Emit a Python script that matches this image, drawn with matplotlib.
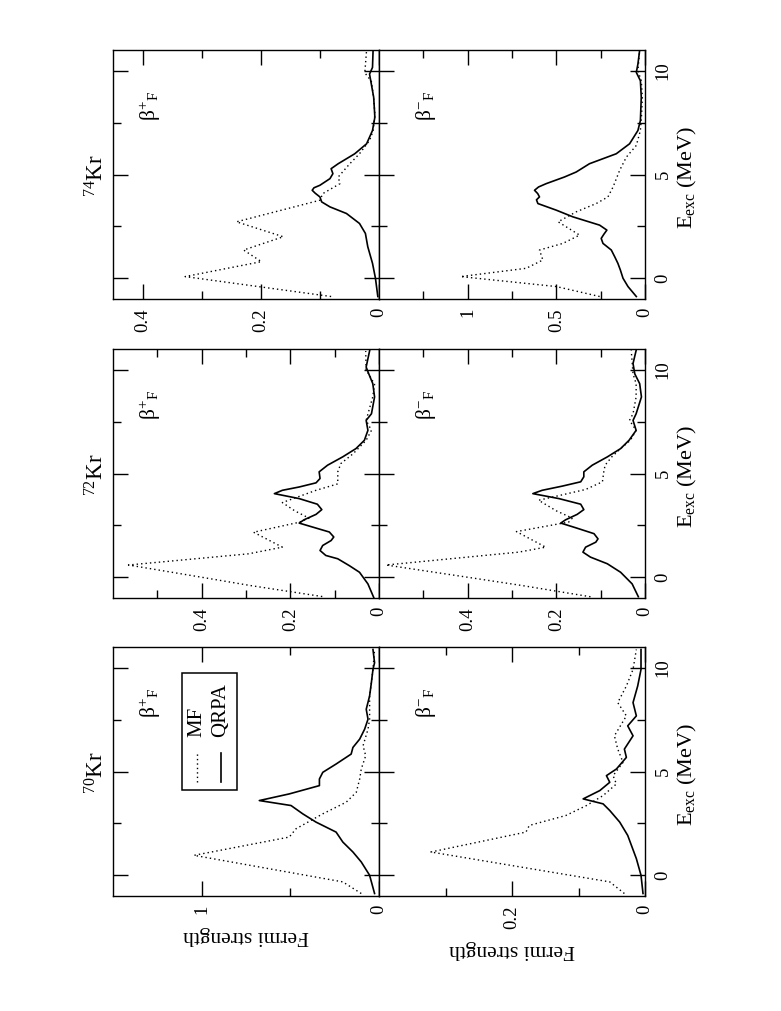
import matplotlib
matplotlib.use("Agg")
import matplotlib.pyplot as plt
from matplotlib.patches import Rectangle
from matplotlib.lines import Line2D

plt.rcParams['font.family'] = ['Liberation Serif', 'DejaVu Serif']
plt.rcParams['mathtext.fontset'] = 'custom'
plt.rcParams['mathtext.rm'] = 'Liberation Serif'
plt.rcParams['mathtext.it'] = 'Liberation Serif:italic'
plt.rcParams['mathtext.bf'] = 'Liberation Serif:bold'

# ---------------- data (E_exc in MeV, Fermi strength) ----------------
nuclei = ['70', '72', '74']

# 74Kr beta+
kr74_bp_mf_E = [-0.88, 0.08, 0.8, 1.36, 2.0, 2.72, 3.76, 4.08, 4.56, 4.88, 5.5, 6.0, 6.64, 7.1, 7.9, 8.7, 9.5, 9.9, 11.0]
kr74_bp_mf_S = [0.081, 0.328, 0.199, 0.229, 0.162, 0.241, 0.100, 0.095, 0.066, 0.069, 0.050, 0.033, 0.016, 0.010, 0.007, 0.009, 0.013, 0.024, 0.021]
kr74_bp_qrpa_E = [-0.88, 0.0, 0.72, 1.52, 2.16, 2.64, 3.12, 3.44, 3.68, 3.92, 4.1, 4.24, 4.36, 4.48, 4.8, 5.04, 5.28, 5.52, 6.0, 6.48, 7.12, 7.76, 8.72, 9.36, 9.84, 10.16, 11.0]
kr74_bp_qrpa_S = [0.002, 0.006, 0.011, 0.019, 0.023, 0.033, 0.055, 0.083, 0.097, 0.100, 0.108, 0.113, 0.110, 0.100, 0.083, 0.078, 0.081, 0.069, 0.041, 0.021, 0.011, 0.007, 0.009, 0.013, 0.016, 0.011, 0.010]

# 74Kr beta-
kr74_bm_mf_E = [-0.88, -0.4, 0.08, 0.48, 0.88, 1.36, 1.68, 2.08, 2.72, 3.2, 3.6, 3.92, 4.4, 5.2, 5.84, 6.4, 7.12, 7.92, 8.72, 9.52, 10.0, 11.0]
kr74_bm_mf_S = [0.256, 0.50, 1.04, 0.67, 0.576, 0.595, 0.463, 0.369, 0.49, 0.388, 0.275, 0.209, 0.18, 0.143, 0.105, 0.049, 0.026, 0.019, 0.015, 0.021, 0.040, 0.030]
kr74_bm_qrpa_E = [-0.88, -0.4, 0.0, 0.4, 0.72, 1.04, 1.36, 1.68, 1.92, 2.12, 2.32, 2.56, 2.96, 3.28, 3.6, 3.78, 3.92, 4.08, 4.24, 4.4, 4.56, 4.88, 5.12, 5.52, 6.0, 6.48, 7.12, 7.6, 8.72, 9.52, 9.92, 10.32, 11.0]
kr74_bm_qrpa_S = [0.049, 0.096, 0.124, 0.139, 0.153, 0.171, 0.19, 0.237, 0.247, 0.232, 0.215, 0.256, 0.407, 0.50, 0.604, 0.612, 0.595, 0.605, 0.623, 0.60, 0.557, 0.454, 0.388, 0.313, 0.162, 0.087, 0.040, 0.026, 0.021, 0.026, 0.049, 0.040, 0.030]

# 72Kr beta+
kr72_bp_mf_E = [-0.93, -0.4, 0.0, 0.59, 1.13, 1.45, 2.17, 2.65, 2.85, 3.2, 3.6, 4.19, 4.5, 5.08, 5.48, 5.96, 6.6, 7.08, 7.56, 8.7, 9.3, 10.0, 10.9]
kr72_bp_mf_S = [0.128, 0.29, 0.40, 0.565, 0.294, 0.218, 0.283, 0.18, 0.158, 0.19, 0.218, 0.142, 0.093, 0.093, 0.086, 0.058, 0.029, 0.017, 0.029, 0.014, 0.010, 0.029, 0.030]
kr72_bp_qrpa_E = [-0.97, -0.32, 0.24, 0.56, 0.89, 1.05, 1.29, 1.53, 1.77, 1.94, 2.18, 2.42, 2.61, 2.77, 3.03, 3.26, 3.52, 3.79, 4.03, 4.19, 4.35, 4.55, 4.76, 5.08, 5.4, 5.8, 6.2, 6.6, 7.08, 7.56, 7.88, 8.69, 9.33, 9.8, 10.13, 10.93]
kr72_bp_qrpa_S = [0.012, 0.025, 0.044, 0.067, 0.093, 0.12, 0.133, 0.127, 0.108, 0.102, 0.112, 0.15, 0.18, 0.169, 0.142, 0.129, 0.139, 0.18, 0.236, 0.218, 0.18, 0.142, 0.133, 0.135, 0.116, 0.082, 0.052, 0.033, 0.025, 0.029, 0.017, 0.010, 0.014, 0.023, 0.029, 0.021]

# 72Kr beta-
kr72_bm_mf_E = [-0.94, -0.4, 0.0, 0.59, 1.21, 1.45, 2.2, 2.66, 2.85, 3.2, 3.71, 4.23, 4.6, 5.08, 5.4, 5.8, 6.2, 6.6, 7.08, 7.56, 7.88, 8.69, 9.33, 9.8, 10.93]
kr72_bm_mf_S = [0.123, 0.277, 0.40, 0.584, 0.285, 0.224, 0.29, 0.172, 0.164, 0.20, 0.24, 0.134, 0.096, 0.093, 0.090, 0.075, 0.055, 0.033, 0.020, 0.035, 0.027, 0.020, 0.020, 0.027, 0.031]
kr72_bm_qrpa_E = [-0.94, -0.32, 0.24, 0.65, 0.97, 1.21, 1.45, 1.69, 1.85, 2.1, 2.39, 2.61, 2.77, 3.03, 3.26, 3.52, 3.79, 4.03, 4.19, 4.39, 4.6, 4.84, 5.08, 5.4, 5.8, 6.2, 6.6, 7.08, 7.56, 7.88, 8.69, 9.33, 9.8, 10.3, 10.93]
kr72_bm_qrpa_S = [0.015, 0.029, 0.055, 0.085, 0.123, 0.140, 0.134, 0.111, 0.106, 0.115, 0.157, 0.190, 0.179, 0.153, 0.138, 0.145, 0.194, 0.253, 0.232, 0.187, 0.145, 0.138, 0.138, 0.119, 0.085, 0.055, 0.036, 0.020, 0.027, 0.020, 0.008, 0.012, 0.023, 0.027, 0.020]

# 70Kr beta+
kr70_bp_mf_E = [-0.88, -0.32, 0.96, 1.84, 2.24, 2.96, 3.52, 4.0, 4.64, 5.12, 5.76, 6.24, 7.04, 7.52, 8.64, 9.28, 9.92, 10.88]
kr70_bp_mf_S = [0.10, 0.204, 1.043, 0.506, 0.468, 0.317, 0.185, 0.128, 0.109, 0.100, 0.075, 0.090, 0.062, 0.053, 0.053, 0.043, 0.034, 0.025]
kr70_bp_qrpa_E = [-0.88, 0.0, 0.64, 1.12, 1.6, 2.08, 2.56, 2.96, 3.36, 3.6, 3.92, 4.32, 4.64, 4.96, 5.36, 5.84, 6.16, 6.56, 7.04, 7.52, 8.0, 8.64, 9.28, 9.92, 10.24, 10.88]
kr70_bp_qrpa_S = [0.025, 0.053, 0.10, 0.147, 0.204, 0.242, 0.355, 0.43, 0.496, 0.675, 0.506, 0.336, 0.336, 0.317, 0.242, 0.157, 0.147, 0.109, 0.081, 0.062, 0.072, 0.053, 0.043, 0.034, 0.025, 0.034]

# 70Kr beta-
kr70_bm_mf_E = [-0.88, -0.32, 1.12, 2.08, 2.4, 2.88, 3.36, 3.84, 4.4, 4.8, 5.44, 6.08, 6.72, 7.68, 8.32, 9.12, 9.92, 10.88]
kr70_bm_mf_S = [0.031, 0.053, 0.322, 0.179, 0.174, 0.119, 0.088, 0.063, 0.043, 0.048, 0.033, 0.041, 0.046, 0.028, 0.041, 0.028, 0.018, 0.013]
kr70_bm_qrpa_E = [-0.88, 0.0, 0.8, 1.92, 2.56, 3.12, 3.44, 3.68, 4.08, 4.48, 4.8, 5.12, 5.68, 6.08, 6.72, 7.2, 7.68, 8.32, 9.12, 9.92, 10.88]
kr70_bm_qrpa_S = [0.003, 0.006, 0.013, 0.026, 0.038, 0.053, 0.063, 0.093, 0.068, 0.053, 0.058, 0.043, 0.028, 0.031, 0.018, 0.026, 0.013, 0.018, 0.011, 0.006, 0.006]

# axis settings per panel: (xmax, major ticks, major labels, minor ticks)
E_major = [0, 5, 10]
E_minor = [2.5, 7.5]
E_labels = ['0', '5', '10']

panels = {
    ('74', 'p'): (0.45, [0, 0.2, 0.4], ['0', '0.2', '0.4'], [0.1, 0.3],
                  kr74_bp_mf_E, kr74_bp_mf_S, kr74_bp_qrpa_E, kr74_bp_qrpa_S),
    ('74', 'm'): (1.5, [0, 0.5, 1.0], ['0', '0.5', '1'], [0.25, 0.75, 1.25],
                  kr74_bm_mf_E, kr74_bm_mf_S, kr74_bm_qrpa_E, kr74_bm_qrpa_S),
    ('72', 'p'): (0.6, [0, 0.2, 0.4], ['0', '0.2', '0.4'], [0.1, 0.3, 0.5],
                  kr72_bp_mf_E, kr72_bp_mf_S, kr72_bp_qrpa_E, kr72_bp_qrpa_S),
    ('72', 'm'): (0.6, [0, 0.2, 0.4], ['0', '0.2', '0.4'], [0.1, 0.3, 0.5],
                  kr72_bm_mf_E, kr72_bm_mf_S, kr72_bm_qrpa_E, kr72_bm_qrpa_S),
    ('70', 'p'): (1.5, [0, 1.0], ['0', '1'], [0.5],
                  kr70_bp_mf_E, kr70_bp_mf_S, kr70_bp_qrpa_E, kr70_bp_qrpa_S),
    ('70', 'm'): (0.4, [0, 0.2], ['0', '0.2'], [0.1, 0.3],
                  kr70_bm_mf_E, kr70_bm_mf_S, kr70_bm_qrpa_E, kr70_bm_qrpa_S),
}

# ---------------- layout (figure is a landscape plot turned 90 deg) ----------------
W, H = 781, 1011
fig = plt.figure(figsize=(W / 100, H / 100), dpi=100)

group_top = {'74': 50, '72': 349, '70': 647}
panel_h = 249
col_left = {'p': 113, 'm': 379}
panel_w = 266

dotted = (0, (1.0, 2.2))
TICK_FS = 13.5

for nuc in ['74', '72', '70']:
    top = group_top[nuc]
    for pm in ['p', 'm']:
        xmax, xmaj, xlab, xmin_t, mfE, mfS, qE, qS = panels[(nuc, pm)]
        left = col_left[pm]
        ax = fig.add_axes([left / W, 1 - (top + panel_h) / H, panel_w / W, panel_h / H])
        ax.plot(mfS, mfE, color='black', lw=1.0, ls=dotted)
        ax.plot(qS, qE, color='black', lw=1.2, ls='-')
        ax.set_xlim(xmax, 0)
        ax.set_ylim(-1, 11)
        ax.set_xticks(xmaj, labels=xlab, rotation=90, fontsize=TICK_FS)
        ax.set_xticks(xmin_t, minor=True)
        if pm == 'm':
            ax.set_yticks(E_major, labels=E_labels, rotation=90, va='center', fontsize=TICK_FS)
        else:
            ax.set_yticks(E_major, labels=[''] * 3)
        ax.set_yticks(E_minor, minor=True)
        ax.tick_params(which='both', direction='in', top=True, bottom=True,
                       left=True, right=True, width=1.0, colors='black')
        ax.tick_params(which='major', length=11)
        ax.tick_params(which='minor', length=6)
        ax.tick_params(axis='x', pad=6.5)
        ax.tick_params(axis='y', labelleft=False, labelright=(pm == 'm'), pad=7)
        for sp in ax.spines.values():
            sp.set_linewidth(1.0)

        # beta label
        if pm == 'p':
            lab = r'$\mathrm{\beta}^{+}{}_{\mathrm{F}}$'
            bx = 0.14
        else:
            lab = r'$\mathrm{\beta}^{-}{}_{\mathrm{F}}$'
            bx = 0.175
        ax.text(bx, 0.774, lab, transform=ax.transAxes, rotation=90,
                ha='center', va='center', fontsize=15.5)

        # legend (70Kr beta+ only), drawn rotated
        if nuc == '70' and pm == 'p':
            ax.add_patch(Rectangle((0.259, 0.424), 0.207, 0.472, transform=ax.transAxes,
                                   fill=False, lw=1.1, ec='black'))
            ax.add_line(Line2D([0.316, 0.316], [0.456, 0.576], transform=ax.transAxes,
                               color='black', lw=1.0, ls=dotted))
            ax.add_line(Line2D([0.406, 0.406], [0.456, 0.576], transform=ax.transAxes,
                               color='black', lw=1.2))
            ax.text(0.316, 0.64, 'MF', transform=ax.transAxes, rotation=90,
                    ha='center', va='bottom', fontsize=15)
            ax.text(0.406, 0.64, 'QRPA', transform=ax.transAxes, rotation=90,
                    ha='center', va='bottom', fontsize=15)

    gc = top + panel_h / 2
    # nucleus title
    fig.text(97 / W, 1 - (gc + 1) / H, r'$^{%s}$Kr' % nuc, rotation=90,
             ha='center', va='center', fontsize=16.5)
    # E axis label
    fig.text(687 / W, 1 - (gc + 3) / H, r'E$_{\mathrm{exc}}$ (MeV)', rotation=90,
             ha='center', va='center', fontsize=16)

# Fermi strength labels (under 70Kr panels)
fig.text(246 / W, 1 - 935 / H, 'Fermi strength', rotation=180,
         ha='center', va='center', fontsize=15.5)
fig.text(512 / W, 1 - 950 / H, 'Fermi strength', rotation=180,
         ha='center', va='center', fontsize=15.5)

fig.savefig('out.png', dpi=100)
